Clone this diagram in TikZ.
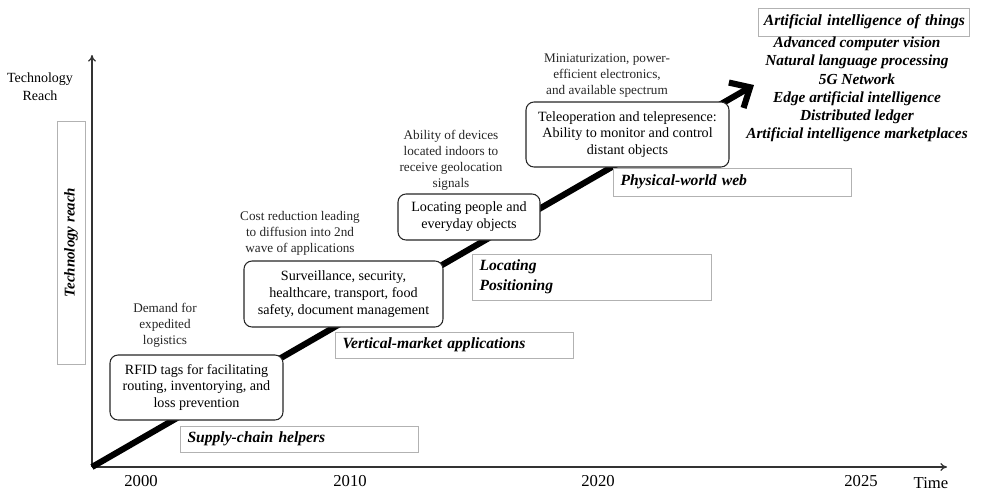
\documentclass[tikz,border=0pt]{standalone}
\usepackage{fontspec}
\setmainfont{Liberation Serif}
\usetikzlibrary{arrows.meta}
\begin{document}
\begin{tikzpicture}[x=0.75pt,y=-0.75pt,
  stage/.style={draw=black!85, line width=0.8pt, rounded corners=6pt, fill=white,
    align=center, inner sep=0pt, font=\fontsize{10.6}{12.6}\selectfont},
  driver/.style={align=center, inner sep=0pt, text=black!85,
    font=\fontsize{9.9}{12}\selectfont},
  era/.style={draw=black!30, line width=0.6pt, fill=white, align=left,
    inner xsep=5.5pt, inner ysep=0pt, font=\fontsize{11.7}{15}\selectfont\bfseries\itshape},
  yearlab/.style={inner sep=0pt, font=\fontsize{12.5}{14}\selectfont},
  axis/.style={line width=0.9pt, draw=black!80}]
\useasboundingbox (0,0) rectangle (986,493);

% axes
\coordinate (o) at (92,467);
\coordinate (ytop) at (92,55);
\coordinate (xend) at (947,467);
\draw[axis,-{To[length=5pt,width=6pt]}] (o) -- (ytop);
\draw[axis,-{To[length=5pt,width=6pt]}] (o) -- (xend);

% technology trajectory
\coordinate (tip) at (754,85);
\draw[line width=4.6pt,-{Straight Barb[length=12pt,width=22pt]}] (o) -- (tip);

% axis labels
\node[yearlab] (y2000) at (141,481) {2000};
\node[yearlab] (y2010) at (350,481) {2010};
\node[yearlab] (y2020) at (598,481) {2020};
\node[yearlab] (y2025) at (861,481) {2025};
\node[yearlab] (time) at (931,483) {Time};
\node[align=center, inner sep=0pt, font=\fontsize{10.5}{13.5}\selectfont] (reach) at (40,87) {Technology\\Reach};

% vertical era label
\node[draw=black!30, line width=0.6pt, fill=white, minimum width={28*0.75pt}, minimum height={243*0.75pt}, inner sep=0pt] (reachbox) at (71,242.5) {};
\node[rotate=90, inner sep=0pt, font=\fontsize{11.2}{13}\selectfont\bfseries\itshape] (reachtxt) at (71,242.5) {Technology reach};

% eras
\node[era, text width={(239-15)*0.75pt}, minimum height={26*0.75pt}] (supply) at (299.5,439) {Supply-chain helpers};
\node[era, text width={(239-15)*0.75pt}, minimum height={26*0.75pt}] (vertical) at (454.5,345) {Vertical-market applications};
\node[era, text width={(240-15)*0.75pt}, minimum height={46*0.75pt}] (locpos) at (592,277) {Locating\\Positioning};
\node[era, text width={(239-15)*0.75pt}, minimum height={28*0.75pt}] (physical) at (732.5,182) {Physical-world web};
\node[era, align=right, inner xsep=3pt, text width={(211-8)*0.75pt}, minimum height={28*0.75pt}] (aiot) at (863.5,22) {Artificial intelligence of things};

\node[align=center, inner sep=0pt, font=\fontsize{11.5}{13.6}\selectfont\bfseries\itshape] (ailist) at (857,89.5)
  {Advanced computer vision\\Natural language processing\\5G Network\\Edge artificial intelligence\\Distributed ledger\\Artificial intelligence marketplaces};

% stages along the trajectory
\node[stage, minimum width={173*0.75pt}, minimum height={65*0.75pt}] (rfid) at (196.5,387.5)
  {RFID tags for facilitating\\routing, inventorying, and\\loss prevention};
\node[stage, minimum width={199*0.75pt}, minimum height={66*0.75pt}] (surv) at (343.5,294)
  {Surveillance, security,\\healthcare, transport, food\\safety, document management};
\node[stage, minimum width={142*0.75pt}, minimum height={46*0.75pt}] (locate) at (469,217)
  {Locating people and\\everyday objects};
\node[stage, minimum width={203*0.75pt}, minimum height={65*0.75pt}] (tele) at (627.5,134.5)
  {Teleoperation and telepresence:\\Ability to monitor and control\\distant objects};

% drivers
\node[driver] (d1) at (165,325) {Demand for\\expedited\\logistics};
\node[driver] (d2) at (300,233) {Cost reduction leading\\to diffusion into 2nd\\wave of applications};
\node[driver] (d3) at (451,160.5) {Ability of devices\\located indoors to\\receive geolocation\\signals};
\node[driver] (d4) at (607,76) {Miniaturization, power-\\efficient electronics,\\and available spectrum};
\end{tikzpicture}
\end{document}
